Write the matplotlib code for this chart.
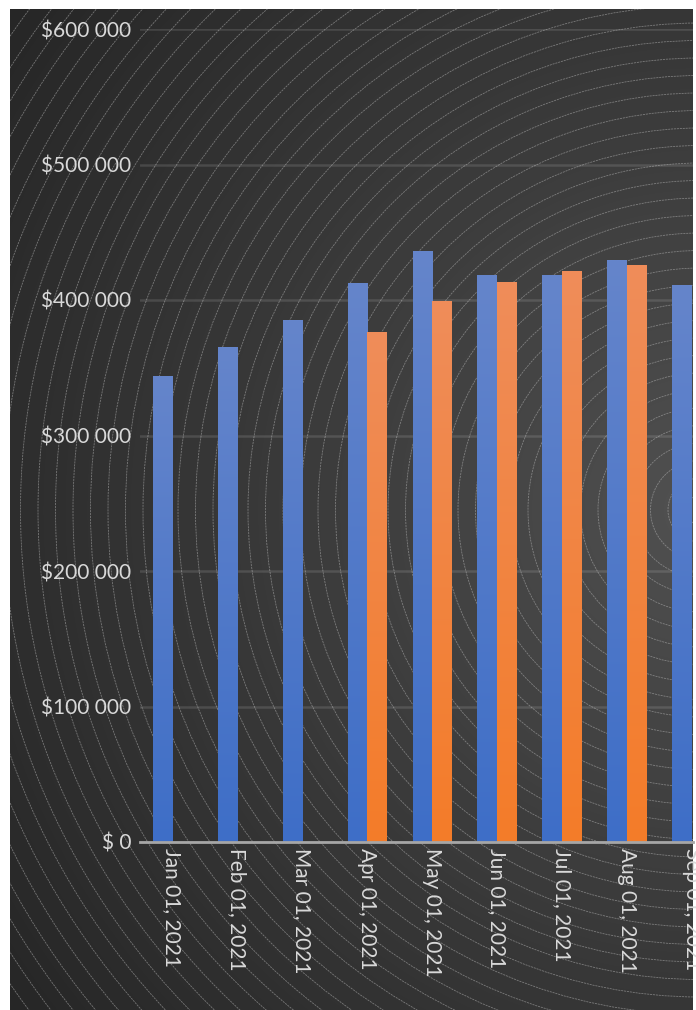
import numpy as np
import matplotlib
matplotlib.use("Agg")
import matplotlib.pyplot as plt
from matplotlib.colors import LinearSegmentedColormap
from matplotlib.patches import Circle, Rectangle

# ---- data -------------------------------------------------------------
months = ["Jan 01, 2021", "Feb 01, 2021", "Mar 01, 2021", "Apr 01, 2021",
          "May 01, 2021", "Jun 01, 2021", "Jul 01, 2021", "Aug 01, 2021",
          "Sep 01, 2021"]
series_blue = [344000, 365000, 385000, 412500, 436000, 418500, 418500, 429500, 411000]
series_orange = [np.nan, np.nan, np.nan, 376500, 399500, 413500, 421500, 426000, np.nan]
y_ticks = [0, 100000, 200000, 300000, 400000, 500000, 600000]
y_tick_labels = ["$ 0", "$100 000", "$200 000", "$300 000", "$400 000",
                 "$500 000", "$600 000"]

# ---- figure -----------------------------------------------------------
W, H, DPI = 696, 1010, 100
fig = plt.figure(figsize=(W / DPI, H / DPI), dpi=DPI, facecolor="white")
plt.rcParams["font.family"] = ["Lato", "DejaVu Sans"]

# background panel in pixel coordinates
bg = fig.add_axes([0, 0, 1, 1], zorder=0)
bg.set_xlim(0, W)
bg.set_ylim(H, 0)
bg.axis("off")
px0, px1, py0, py1 = 10, 693, 9, H
cx, cy = 700, 510
yy, xx = np.mgrid[py0:py1, px0:px1]
r = np.hypot(xx - cx, yy - cy)
shade = 0x52 - 0x2c * np.clip(r / 860.0, 0, 1) ** 0.85
img = np.dstack([shade, shade, shade]) / 255.0
bg.imshow(img, extent=[px0, px1, py1, py0], origin="upper",
          interpolation="bilinear", aspect="auto")
clip_rect = Rectangle((px0, py0), px1 - px0, py1 - py0,
                      transform=bg.transData, facecolor="none", edgecolor="none")
bg.add_patch(clip_rect)
for k in range(0, 60):
    rad = 14.5 + 17.5 * k
    c = Circle((cx, cy), rad, fill=False, edgecolor="#a8a8a8", lw=0.6,
               alpha=0.6, linestyle=(0, (2.5, 1.0)))
    bg.add_patch(c)
    c.set_clip_path(clip_rect)

# ---- chart axes ---------------------------------------------------------
left_px, right_px, top_px, base_px = 139.5, 693, 29, 842
slot_px = 65.0
ax = fig.add_axes([left_px / W, (H - base_px) / H,
                   (right_px - left_px) / W, (base_px - top_px) / H], zorder=1)
ax.patch.set_alpha(0)

x = np.arange(len(months))
bw = 0.3

blue_cmap = LinearSegmentedColormap.from_list("blue", ["#3e6ec7", "#6585cb"])
orange_cmap = LinearSegmentedColormap.from_list("orange", ["#f47c29", "#ef8d5a"])
grad = np.linspace(0, 1, 256).reshape(-1, 1)


def gradient_bars(xs, vals, cmap):
    bars = ax.bar(xs, vals, width=bw, color=cmap(0.5), edgecolor="none", zorder=3)
    for b in bars:
        h = b.get_height()
        if not np.isfinite(h):
            continue
        x0 = b.get_x()
        im = ax.imshow(grad, extent=[x0, x0 + b.get_width(), 0, h],
                       origin="lower", aspect="auto", cmap=cmap,
                       interpolation="bilinear", zorder=4)
        im.set_clip_path(b)
    return bars


gradient_bars(x - bw / 2, series_blue, blue_cmap)
gradient_bars(x + bw / 2, series_orange, orange_cmap)

ax.set_xlim(-0.5, -0.5 + (right_px - left_px) / slot_px)
ax.set_ylim(0, 600000)

ax.set_yticks(y_ticks)
ax.set_yticklabels(y_tick_labels)
ax.set_xticks(x)
ax.set_xticklabels(months, rotation=-90, ha="center", va="top")

ax.tick_params(axis="both", length=0, colors="#d9d9d9", labelsize=15)
ax.tick_params(axis="y", pad=6)
ax.tick_params(axis="x", pad=4)

ax.grid(axis="y", color="white", alpha=0.12, lw=1.8, zorder=1)
ax.set_axisbelow(True)
for s in ["top", "right", "left"]:
    ax.spines[s].set_visible(False)
ax.spines["bottom"].set_color("#a6a6a6")
ax.spines["bottom"].set_linewidth(2)
ax.spines["bottom"].set_zorder(5)

fig.savefig("out.png", dpi=DPI, facecolor="white")
